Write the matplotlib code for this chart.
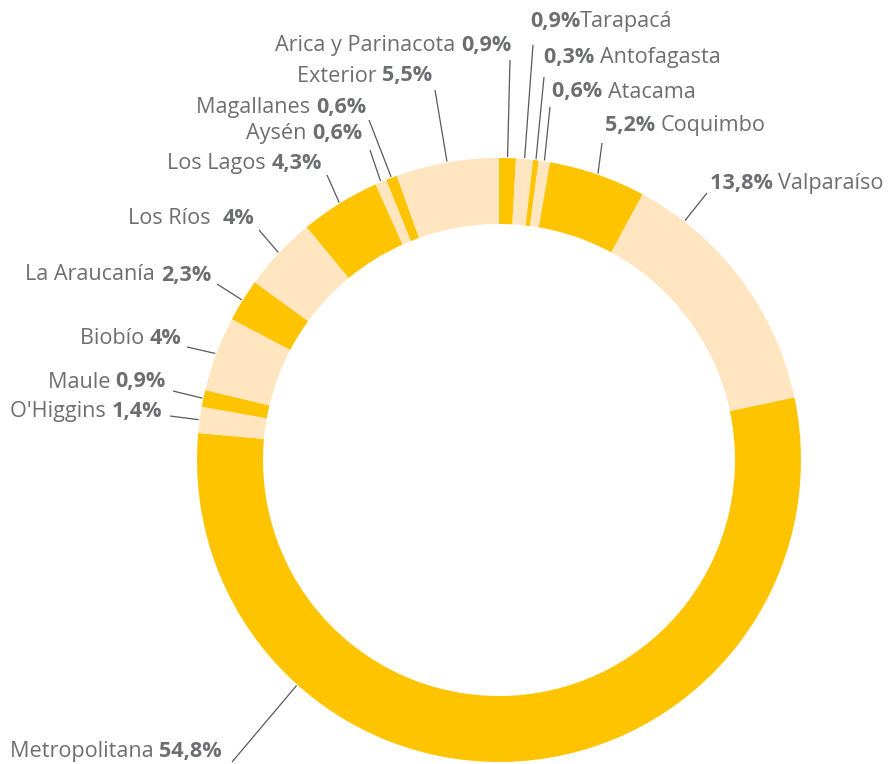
import matplotlib
matplotlib.use("Agg")
import matplotlib.pyplot as plt
import numpy as np
from matplotlib.offsetbox import TextArea, HPacker, AnnotationBbox

# Regions clockwise from 12 o'clock
regions = ["Arica y Parinacota", "Tarapacá", "Antofagasta", "Atacama", "Coquimbo",
           "Valparaíso", "Metropolitana", "O'Higgins", "Maule", "Biobío",
           "La Araucanía", "Los Ríos", "Los Lagos", "Aysén", "Magallanes", "Exterior"]
shares = [0.9, 0.9, 0.3, 0.6, 5.2, 13.8, 54.8, 1.4, 0.9, 4.0, 2.3, 4.0, 4.3, 0.6, 0.6, 5.5]
pct_labels = ["0,9%", "0,9%", "0,3%", "0,6%", "5,2%", "13,8%", "54,8%", "1,4%", "0,9%",
              "4%", "2,3%", "4%", "4,3%", "0,6%", "0,6%", "5,5%"]

GOLD = "#ffc400"
CREAM = "#ffe6c1"
TEXT = "#6d6e71"
LINE = "#58595b"

W, H = 889, 764
CX, CY, R, RING = 499, 460, 302, 66

# label layout: (anchor x, anchor y, side, leader end x, leader end y, where on slice)
# pixels from top-left
layout = {
    "Arica y Parinacota": (511, 45, "left", 510, 60, 0.5),
    "Tarapacá": (530, 21, "right", 533, 45, 0.5),
    "Antofagasta": (544, 58, "right", 544, 77, 0.5),
    "Atacama": (552, 92, "right", 550, 107, 0.5),
    "Coquimbo": (605, 126, "right", 602, 143, 0.5),
    "Valparaíso": (710, 183, "right", 707, 193, 0.19),
    "Metropolitana": (222, 752, "left", 232, 762, 0.73),
    "O'Higgins": (162, 411, "left", 170, 416, 0.5),
    "Maule": (166, 382, "left", 173, 391, 0.5),
    "Biobío": (181, 338, "left", 187, 347, 0.5),
    "La Araucanía": (211, 275, "left", 217, 284, 0.5),
    "Los Ríos": (254, 219, "left", 259, 230, 0.5),
    "Los Lagos": (322, 164, "left", 327, 175, 0.5),
    "Aysén": (362, 134, "left", 370, 150, 0.5),
    "Magallanes": (366, 108, "left", 369, 120, 0.5),
    "Exterior": (432, 76, "left", 435, 90, 0.5),
}

plt.rcParams["font.family"] = ["Open Sans", "DejaVu Sans"]

fig = plt.figure(figsize=(W / 100, H / 100), dpi=100)
ax = fig.add_axes([0, 0, 1, 1])

colors = [GOLD if i % 2 == 0 else CREAM for i in range(len(shares))]
wedges, _ = ax.pie(shares, radius=R, center=(CX, H - CY), startangle=90,
                   counterclock=False, colors=colors,
                   wedgeprops=dict(width=RING, edgecolor="none"))
ax.set_xlim(0, W)
ax.set_ylim(0, H)
ax.set_aspect("equal")
ax.axis("off")

for i, name in enumerate(regions):
    w = wedges[i]
    lx, ly, side, ex, ey, frac = layout[name]
    # pie goes clockwise, so theta2 is where the slice starts
    ang = np.deg2rad(w.theta2 - frac * (w.theta2 - w.theta1))
    x0 = CX + (R + 1) * np.cos(ang)
    y0 = (H - CY) + (R + 1) * np.sin(ang)
    ax.plot([x0, ex], [y0, H - ey], color=LINE, lw=0.9, solid_capstyle="butt")

    fs = 15.6
    norm = dict(color=TEXT, fontsize=fs)
    bold = dict(color=TEXT, fontsize=fs, fontweight="bold")
    if side == "left":
        gap = "  " if name == "Los Ríos" else " "
        parts = [TextArea(name + gap, textprops=norm), TextArea(pct_labels[i], textprops=bold)]
        align = (1.0, 0.5)
    else:
        gap = "" if name == "Tarapacá" else " "
        parts = [TextArea(pct_labels[i] + gap, textprops=bold), TextArea(name, textprops=norm)]
        align = (0.0, 0.5)
    box = HPacker(children=parts, pad=0, sep=0, align="baseline")
    ab = AnnotationBbox(box, (lx, H - ly), xycoords="data", box_alignment=align,
                        frameon=False, pad=0)
    ax.add_artist(ab)

fig.savefig("out.png", dpi=100)
